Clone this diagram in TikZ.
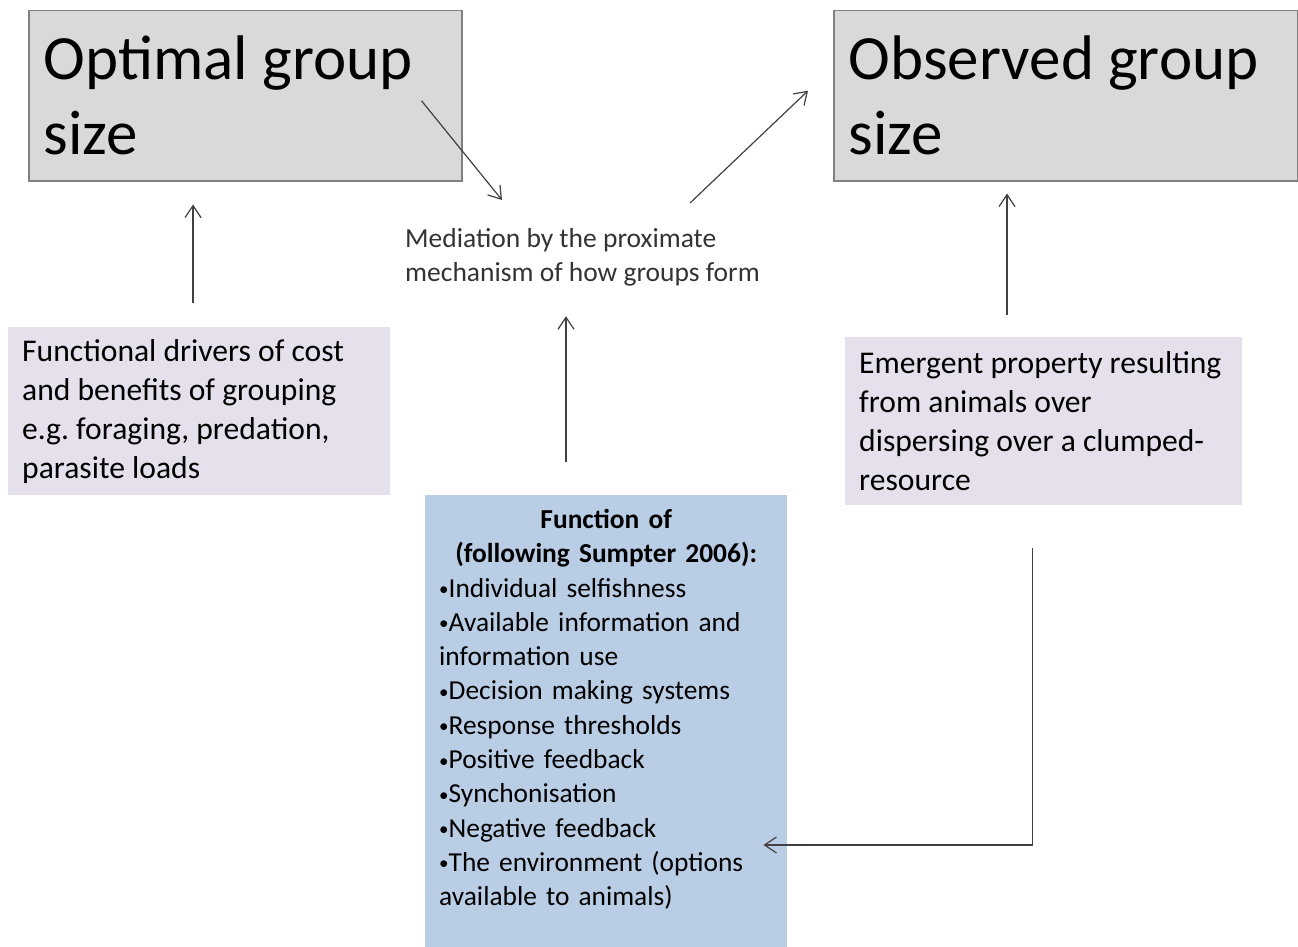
\documentclass[tikz,border=0pt]{standalone}
\usepackage{fontspec}
\setmainfont{Carlito}
\usetikzlibrary{arrows.meta}
\setlength{\parindent}{0pt}
\frenchspacing

\definecolor{boxgray}{HTML}{D9D9D9}
\definecolor{edgegray}{HTML}{808080}
\definecolor{lavender}{HTML}{E6E0EC}
\definecolor{paleblue}{HTML}{B9CDE5}
\definecolor{linkgray}{HTML}{404040}
\newcommand{\blt}{\raisebox{1.5pt}{\fontsize{19}{19}\selectfont •}}
\newcommand{\natspace}{\spaceskip=0pt\relax}

\begin{document}
\begin{tikzpicture}[x=1pt,y=-1pt,
  sizebox/.style={draw=edgegray, line width=1.5pt, fill=boxgray, anchor=north west, align=left,
    inner xsep=15pt, minimum height=170pt, font=\fontsize{63}{75}\selectfont},
  driverbox/.style={fill=lavender, anchor=north west, align=left, inner xsep=14pt,
    minimum height=168pt, font=\fontsize{31.6}{39}\selectfont},
  listbox/.style={fill=paleblue, anchor=north west, text width=334pt, inner xsep=14pt,
    inner ysep=14pt, text depth=440pt, font=\fontsize{27.4}{34.3}\selectfont},
  medtext/.style={anchor=north west, inner sep=0pt, align=left, text=black!80,
    font=\fontsize{27.5}{34}\selectfont},
  link/.style={draw=linkgray, line width=1.2pt, -{Straight Barb[length=12pt,width=16pt]}}]
  \useasboundingbox (0,0) rectangle (1298,947);

  % the two group sizes
  \node[sizebox, text width=403pt] (optimal) at (28,10) {\natspace Optimal group\\size};
  \node[sizebox, text width=434pt] (observed) at (833,10) {\natspace Observed group\\size};

  \node[medtext] (mediation) at (405,228) {Mediation by the proximate\\mechanism of how groups form};

  \node[driverbox, text width=354pt] (drivers) at (8,327)
    {\natspace Functional drivers of cost\\and benefits of grouping\\e.g. foraging, predation,\\parasite loads};
  \node[driverbox, text width=369pt] (emergent) at (845,337)
    {\natspace Emergent property resulting\\from animals over\\dispersing over a clumped-\\resource};

  \node[listbox] (funcbox) at (425,495)
    {\centering\bfseries Function of\\(following Sumpter 2006):\par
     \raggedright\mdseries
     \blt Individual selfishness\\
     \blt Available information and\\information use\\
     \blt Decision making systems\\
     \blt Response thresholds\\
     \blt Positive feedback\\
     \blt Synchonisation\\
     \blt Negative feedback\\
     \blt The environment (options\\available to animals)};

  % arrows
  \draw[link] ([xshift=-41pt,yshift=-5pt]optimal.east) -- ([xshift=97pt,yshift=28pt]mediation.north west);
  \draw[link] ([xshift=-70pt,yshift=25pt]mediation.north east) -- ([xshift=-25pt,yshift=5pt]observed.west);
  \draw[link, shorten <=24pt, shorten >=23pt] (drivers.north -| 193,0) -- (optimal.south -| 193,0);
  \draw[link, shorten <=33pt, shorten >=30pt] (funcbox.north -| 566,0) -- (mediation.south -| 566,0);
  \draw[link, shorten <=22pt, shorten >=12pt] (emergent.north -| 1007,0) -- (observed.south -| 1007,0);
  \draw[link, shorten >=-24pt] ([xshift=-11pt,yshift=-43pt]emergent.south) |- (funcbox.east |- 0,845);
\end{tikzpicture}
\end{document}
